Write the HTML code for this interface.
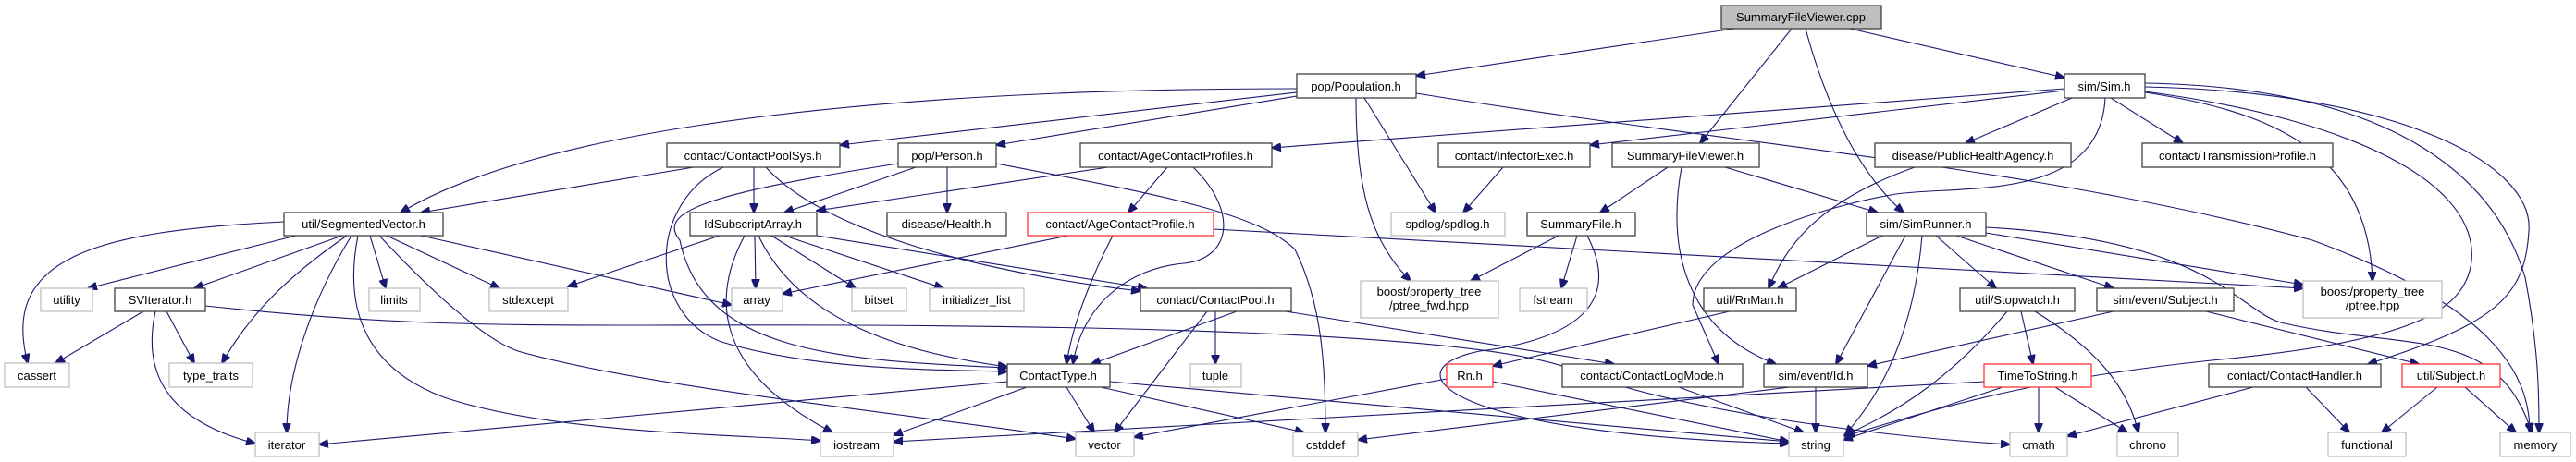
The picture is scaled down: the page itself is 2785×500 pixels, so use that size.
<!DOCTYPE html>
<html><head><meta charset="utf-8"><style>
html,body{margin:0;padding:0;background:#fff;}
svg{display:block;}
text{font-family:"Liberation Sans",sans-serif;font-size:13px;fill:#000;text-anchor:middle;}
.n{fill:#fff;stroke:#404040;stroke-width:1.3;}
.g{fill:#fff;stroke:#bfbfbf;stroke-width:1.3;}
.r{fill:#fff;stroke:#ff3333;stroke-width:1.3;}
.c{fill:#bfbfbf;stroke:#404040;stroke-width:1.3;}
path{fill:none;stroke:#191970;stroke-width:1.1;marker-end:url(#a);}
</style></head><body>
<svg width="2785" height="500" viewBox="0 0 2785 500" xmlns="http://www.w3.org/2000/svg">
<defs><marker id="a" markerUnits="userSpaceOnUse" markerWidth="11" markerHeight="9" refX="10" refY="4.5" orient="auto"><polygon points="0,0 11,4.5 0,9" fill="#191970" stroke="#191970"/></marker></defs>
<g>
<path d="M1875,31 L1531,82"/>
<path d="M1937,31 L1838,155"/>
<path d="M1952,31 Q1990,170 2058,230"/>
<path d="M2000,31 L2232,84"/>
<path d="M1402,96 C1000,96 600,130 433,230"/>
<path d="M1402,100 L908,157"/>
<path d="M1402,104 L1077,157"/>
<path d="M1475,106 L1552,230"/>
<path d="M1466,106 C1466,200 1480,260 1525,304"/>
<path d="M1531,101 C1900,160 2200,180 2500,260 C2690,330 2735,400 2735,468"/>
<path d="M2232,98 L1719,157"/>
<path d="M2232,96 L1375,160"/>
<path d="M2240,106 L2125,155"/>
<path d="M2282,106 L2360,155"/>
<path d="M2319,100 C2450,120 2560,160 2565,304"/>
<path d="M2319,94 C2600,100 2740,180 2734,250 C2730,320 2700,350 2560,394"/>
<path d="M2319,90 C2600,95 2700,200 2730,300 C2745,380 2745,430 2745,468"/>
<path d="M2319,99 C2550,130 2680,200 2672,283 C2665,340 2600,370 2391,390 C2200,410 2100,440 1995,472"/>
<path d="M2276,106 C2270,220 2120,200 2050,210 C1990,220 1830,260 1830,330 L1858,394"/>
<path d="M2070,181 C1960,220 1930,270 1912,312"/>
<path d="M1803,181 L1730,230"/>
<path d="M1818,181 C1800,280 1830,360 1920,394"/>
<path d="M1865,181 L2030,230"/>
<path d="M1625,181 L1582,230"/>
<path d="M1685,255 L1590,304"/>
<path d="M1705,255 L1688,312"/>
<path d="M1716,255 C1760,340 1680,370 1600,380 C1500,400 1560,470 1934,480"/>
<path d="M2035,255 L1922,312"/>
<path d="M2093,255 L2158,312"/>
<path d="M2115,255 L2285,312"/>
<path d="M2147,252 L2490,308"/>
<path d="M2147,246 C2400,260 2420,340 2470,350 C2600,380 2700,350 2737,468"/>
<path d="M2078,255 C2070,350 2040,420 1995,470"/>
<path d="M2060,255 L1985,394"/>
<path d="M1312,248 L2490,312"/>
<path d="M2285,337 L2019,396"/>
<path d="M2385,337 L2615,394"/>
<path d="M2185,337 L2198,394"/>
<path d="M2200,337 C2270,380 2300,420 2312,468"/>
<path d="M2170,337 C2100,420 2040,450 1993,472"/>
<path d="M2204,419 L2204,468"/>
<path d="M2222,419 L2300,468"/>
<path d="M2165,419 L1993,476"/>
<path d="M2145,413 L966,478"/>
<path d="M2436,419 L2235,472"/>
<path d="M2493,419 L2540,468"/>
<path d="M2635,419 L2575,468"/>
<path d="M2665,419 L2720,468"/>
<path d="M1815,419 L1950,468"/>
<path d="M1963,419 L1963,468"/>
<path d="M1935,419 L1468,476"/>
<path d="M1614,413 L1934,478"/>
<path d="M1564,410 L1226,473"/>
<path d="M1870,337 L1614,396"/>
<path d="M1337,337 L1180,394"/>
<path d="M1314,337 L1314,394"/>
<path d="M1305,337 L1205,468"/>
<path d="M1390,337 L1745,394"/>
<path d="M1089,413 L345,481"/>
<path d="M1110,419 L966,471"/>
<path d="M1153,419 L1183,468"/>
<path d="M1190,419 L1410,468"/>
<path d="M1200,413 L1934,478"/>
<path d="M1198,181 L883,228"/>
<path d="M1262,181 L1220,230"/>
<path d="M1290,181 C1340,230 1330,280 1280,285 C1220,290 1170,330 1160,394"/>
<path d="M1155,255 L846,318"/>
<path d="M1203,255 C1180,300 1160,350 1153,394"/>
<path d="M990,181 L848,230"/>
<path d="M1024,181 L1024,230"/>
<path d="M971,177 C760,210 710,230 735,260 C760,380 900,390 1089,398"/>
<path d="M1077,177 C1250,210 1360,230 1400,270 C1430,330 1433,400 1433,468"/>
<path d="M750,181 L455,230"/>
<path d="M815,181 L815,230"/>
<path d="M828,181 C900,260 1100,300 1233,315"/>
<path d="M782,181 C700,220 700,340 780,370 C880,400 1000,400 1089,402"/>
<path d="M816,255 L817,312"/>
<path d="M834,255 L925,312"/>
<path d="M848,255 L1020,312"/>
<path d="M883,255 L1240,312"/>
<path d="M820,255 C860,340 960,380 1089,397"/>
<path d="M805,255 C770,320 770,400 900,468"/>
<path d="M778,255 L614,310"/>
<path d="M307,240 C100,250 0,280 30,393"/>
<path d="M320,255 L95,312"/>
<path d="M370,255 L210,312"/>
<path d="M375,255 C310,300 270,340 240,393"/>
<path d="M380,255 C340,320 310,400 310,468"/>
<path d="M400,255 L417,312"/>
<path d="M418,255 L540,312"/>
<path d="M455,255 L791,330"/>
<path d="M387,255 C370,340 400,400 480,430 C600,470 800,470 887,477"/>
<path d="M410,255 C480,330 530,370 560,380 C700,420 1000,450 1163,475"/>
<path d="M155,337 L60,393"/>
<path d="M180,337 L210,393"/>
<path d="M168,337 C150,420 200,460 276,480"/>
<path d="M222,331 C400,350 500,352 700,352 C1200,350 1600,360 1700,400 C1800,440 2000,470 2173,481"/>
</g>
<g>
<rect class="c" x="1861" y="6" width="173" height="25"/><text x="1947" y="23">SummaryFileViewer.cpp</text>
<rect class="n" x="1402" y="80" width="129" height="26"/><text x="1466" y="98">pop/Population.h</text>
<rect class="n" x="2232" y="80" width="87" height="26"/><text x="2275" y="98">sim/Sim.h</text>
<rect class="n" x="721" y="155" width="187" height="26"/><text x="814" y="173">contact/ContactPoolSys.h</text>
<rect class="n" x="971" y="155" width="106" height="26"/><text x="1024" y="173">pop/Person.h</text>
<rect class="n" x="1168" y="155" width="207" height="26"/><text x="1271" y="173">contact/AgeContactProfiles.h</text>
<rect class="n" x="1555" y="155" width="164" height="26"/><text x="1637" y="173">contact/InfectorExec.h</text>
<rect class="n" x="1743" y="155" width="159" height="26"/><text x="1822" y="173">SummaryFileViewer.h</text>
<rect class="n" x="2027" y="155" width="212" height="26"/><text x="2133" y="173">disease/PublicHealthAgency.h</text>
<rect class="n" x="2316" y="155" width="206" height="26"/><text x="2419" y="173">contact/TransmissionProfile.h</text>
<rect class="n" x="307" y="230" width="172" height="25"/><text x="393" y="247">util/SegmentedVector.h</text>
<rect class="n" x="746" y="230" width="137" height="25"/><text x="814" y="247">IdSubscriptArray.h</text>
<rect class="n" x="959" y="230" width="129" height="25"/><text x="1023" y="247">disease/Health.h</text>
<rect class="r" x="1111" y="230" width="201" height="25"/><text x="1211" y="247">contact/AgeContactProfile.h</text>
<rect class="g" x="1504" y="230" width="123" height="25"/><text x="1565" y="247">spdlog/spdlog.h</text>
<rect class="n" x="1651" y="230" width="117" height="25"/><text x="1709" y="247">SummaryFile.h</text>
<rect class="n" x="2018" y="230" width="129" height="25"/><text x="2082" y="247">sim/SimRunner.h</text>
<rect class="g" x="44" y="312" width="56" height="25"/><text x="72" y="329">utility</text>
<rect class="n" x="124" y="312" width="98" height="25"/><text x="173" y="329">SVIterator.h</text>
<rect class="g" x="399" y="312" width="55" height="25"/><text x="426" y="329">limits</text>
<rect class="g" x="529" y="312" width="85" height="25"/><text x="571" y="329">stdexcept</text>
<rect class="g" x="791" y="312" width="55" height="25"/><text x="818" y="329">array</text>
<rect class="g" x="921" y="312" width="59" height="25"/><text x="950" y="329">bitset</text>
<rect class="g" x="1005" y="312" width="102" height="25"/><text x="1056" y="329">initializer_list</text>
<rect class="n" x="1233" y="312" width="163" height="25"/><text x="1314" y="329">contact/ContactPool.h</text>
<rect class="g" x="1471" y="304" width="149" height="40"/><text x="1545" y="320">boost/property_tree</text><text x="1545" y="335">/ptree_fwd.hpp</text>
<rect class="g" x="1643" y="312" width="73" height="25"/><text x="1679" y="329">fstream</text>
<rect class="n" x="1842" y="312" width="100" height="25"/><text x="1892" y="329">util/RnMan.h</text>
<rect class="n" x="2119" y="312" width="124" height="25"/><text x="2181" y="329">util/Stopwatch.h</text>
<rect class="n" x="2267" y="312" width="148" height="25"/><text x="2341" y="329">sim/event/Subject.h</text>
<rect class="g" x="2490" y="304" width="150" height="40"/><text x="2565" y="320">boost/property_tree</text><text x="2565" y="335">/ptree.hpp</text>
<rect class="g" x="5" y="393" width="70" height="26"/><text x="40" y="411">cassert</text>
<rect class="g" x="183" y="393" width="90" height="26"/><text x="228" y="411">type_traits</text>
<rect class="n" x="1089" y="394" width="111" height="25"/><text x="1144" y="411">ContactType.h</text>
<rect class="g" x="1287" y="394" width="55" height="25"/><text x="1314" y="411">tuple</text>
<rect class="r" x="1564" y="394" width="50" height="25"/><text x="1589" y="411">Rn.h</text>
<rect class="n" x="1689" y="394" width="195" height="25"/><text x="1786" y="411">contact/ContactLogMode.h</text>
<rect class="n" x="1907" y="394" width="112" height="25"/><text x="1963" y="411">sim/event/Id.h</text>
<rect class="r" x="2145" y="394" width="116" height="25"/><text x="2203" y="411">TimeToString.h</text>
<rect class="n" x="2388" y="394" width="186" height="25"/><text x="2481" y="411">contact/ContactHandler.h</text>
<rect class="r" x="2597" y="394" width="106" height="25"/><text x="2650" y="411">util/Subject.h</text>
<rect class="g" x="276" y="468" width="69" height="26"/><text x="310" y="486">iterator</text>
<rect class="g" x="887" y="468" width="79" height="26"/><text x="926" y="486">iostream</text>
<rect class="g" x="1163" y="468" width="63" height="26"/><text x="1194" y="486">vector</text>
<rect class="g" x="1398" y="468" width="70" height="26"/><text x="1433" y="486">cstddef</text>
<rect class="g" x="1934" y="468" width="59" height="26"/><text x="1963" y="486">string</text>
<rect class="g" x="2173" y="468" width="62" height="26"/><text x="2204" y="486">cmath</text>
<rect class="g" x="2289" y="468" width="66" height="26"/><text x="2322" y="486">chrono</text>
<rect class="g" x="2517" y="468" width="84" height="26"/><text x="2559" y="486">functional</text>
<rect class="g" x="2703" y="468" width="76" height="26"/><text x="2741" y="486">memory</text>
</g>
</svg>
</body></html>
